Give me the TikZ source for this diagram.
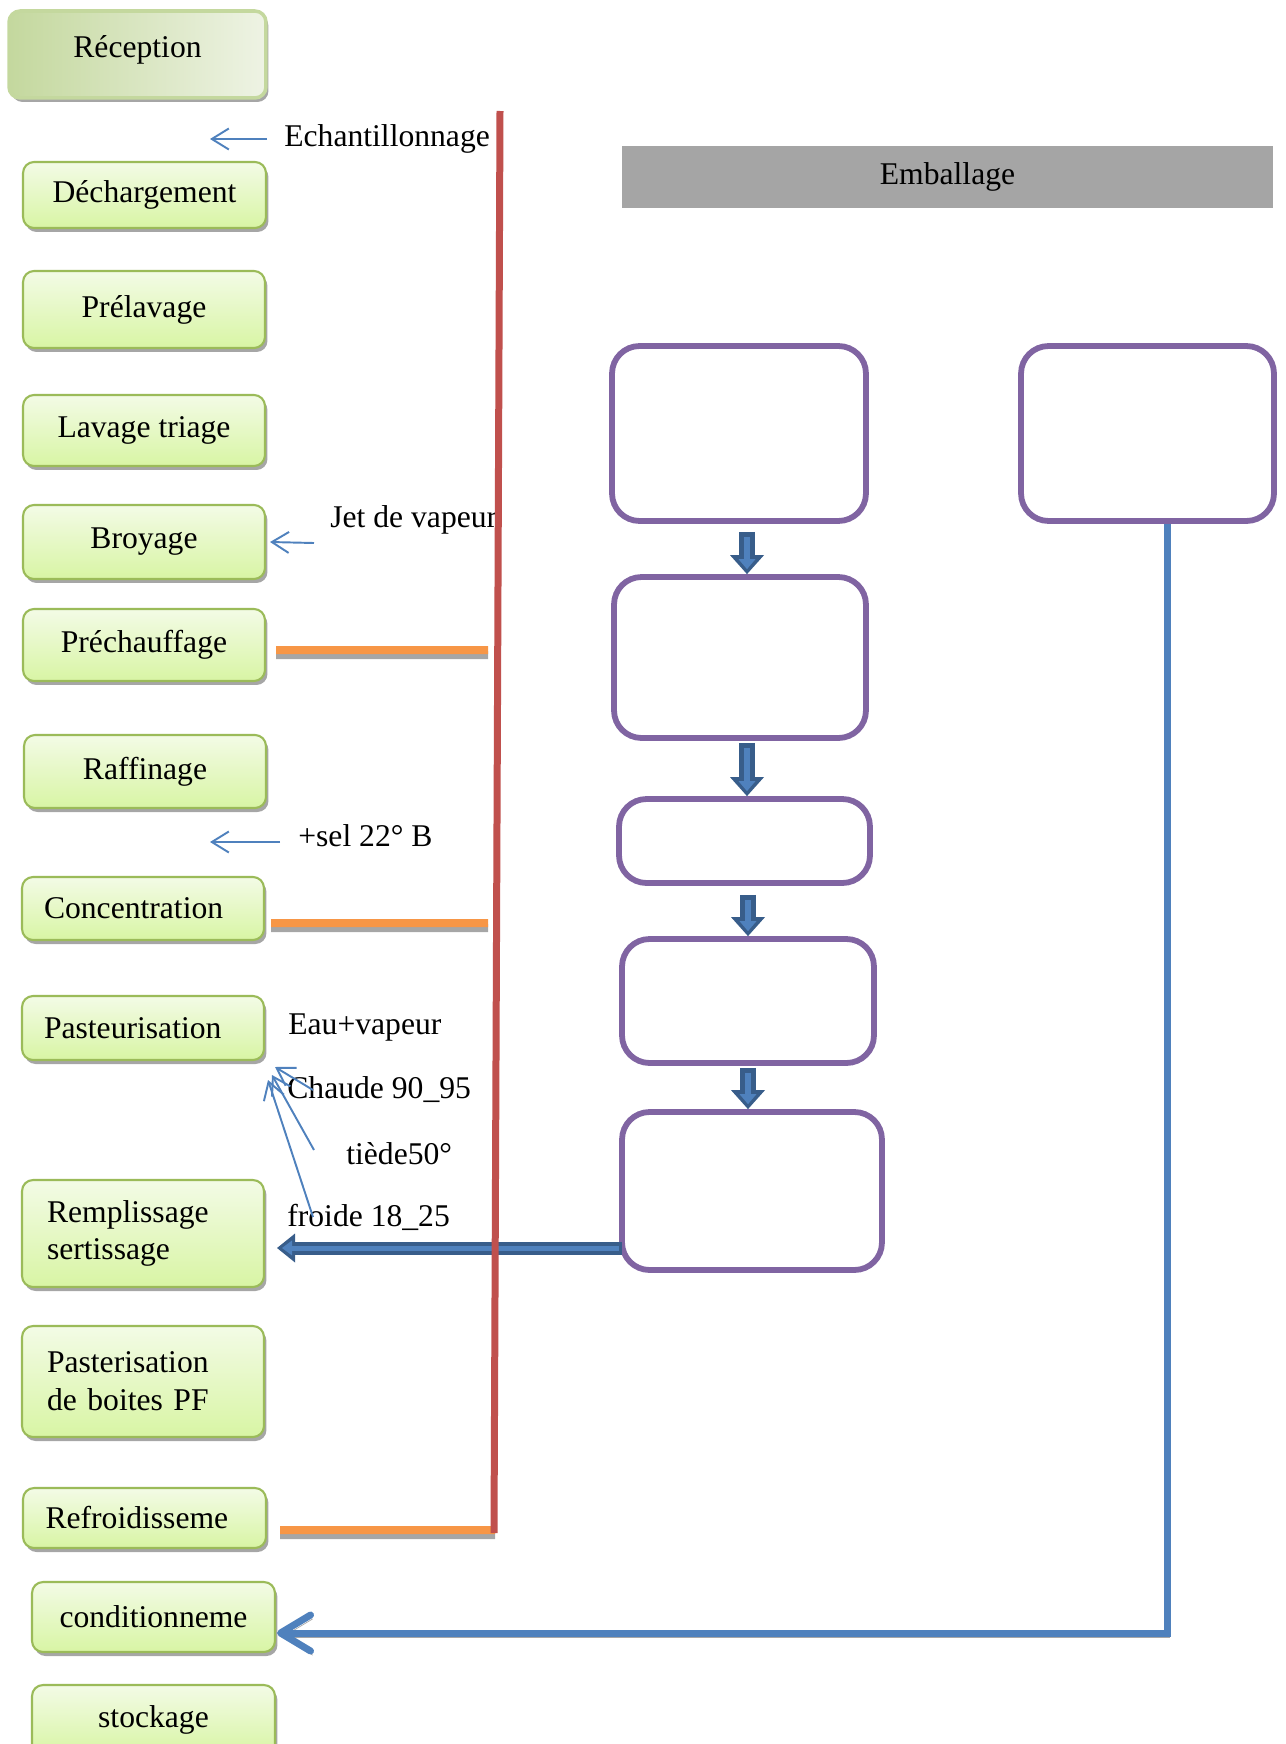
\documentclass[tikz,border=0pt]{standalone}
\usepackage{fontspec}
\setmainfont{Liberation Serif}
\usetikzlibrary{arrows.meta,shadows}
\definecolor{gbord}{HTML}{9BBB59}
\definecolor{gtop}{HTML}{F3FBE6}
\definecolor{gbot}{HTML}{D8F5A4}
\definecolor{rdark}{HTML}{C4D89E}
\definecolor{rlight}{HTML}{EEF3E4}
\definecolor{purp}{HTML}{8064A2}
\definecolor{bblue}{HTML}{4F81BD}
\definecolor{dblue}{HTML}{385D8A}
\definecolor{redl}{HTML}{C0504D}
\definecolor{orng}{HTML}{F79646}
\definecolor{embgray}{HTML}{A5A5A5}

\begin{document}
\begin{tikzpicture}[x=0.02cm,y=-0.02cm,font=\fontsize{18}{21.5}\selectfont,
gbox/.style={draw=gbord,line width=1.2pt,rounded corners=0.22cm,top color=gtop,bottom color=gbot,
  drop shadow={shadow xshift=0.05cm,shadow yshift=-0.08cm,fill=black!35,opacity=1},
  minimum width=4.84cm,inner sep=0pt},
rbox/.style={gbox,left color=rdark,right color=rlight,draw=rdark,line width=2pt,minimum width=5.14cm},
twoline/.style={gbox,text width=3.84cm,inner xsep=0.5cm,align=left},
leftbox/.style={gbox,text width=3.96cm,inner xsep=0.44cm,align=left},
pbox/.style={draw=purp,line width=3.3pt,rounded corners=0.55cm,fill=white,inner sep=0pt},
lbl/.style={inner sep=0pt,anchor=west},
thinarr/.style={draw=bblue,line width=1.1pt,-{Straight Barb[length=0.34cm,width=0.42cm]}},
blkout/.style={draw=dblue,line width=0.32cm,-{Triangle[width=0.68cm,length=0.38cm,line width=0pt]}},
blkin/.style={draw=bblue,line width=0.12cm,-{Triangle[width=0.34cm,length=0.2cm,line width=0pt]},shorten >=0.1cm,shorten <=0.1cm},
hblkout/.style={draw=dblue,line width=0.26cm,-{Triangle[width=0.58cm,length=0.36cm,line width=0pt]},shorten >=0.24cm},
hblkin/.style={draw=bblue,line width=0.1cm,-{Triangle[width=0.3cm,length=0.2cm,line width=0pt]},shorten >=0.34cm,shorten <=0.06cm},
orline/.style={draw=orng,line width=0.16cm,preaction={draw=black!35,line width=0.16cm,transform canvas={yshift=-0.1cm}}},
lline/.style={draw=bblue,line width=0.14cm,-{Straight Barb[length=0.6cm,width=0.72cm,round]},
  preaction={draw=black!35,transform canvas={xshift=0.04cm,yshift=-0.08cm}}},
redline/.style={draw=redl,line width=0.14cm}]
\useasboundingbox (0,0) rectangle (1285,1744);
\node[rbox,minimum height=1.74cm] (recep) at (137.5,54.5) {\raisebox{0.3cm}{Réception}};
\node[gbox,minimum width=4.86cm,minimum height=1.32cm] (dech) at (144.5,195) {Déchargement};
\node[gbox,minimum height=1.54cm] (prelav) at (144,309.5) {Prélavage};
\node[gbox,minimum height=1.42cm] (lavage) at (144,430.5) {Lavage triage};
\node[gbox,minimum height=1.48cm] (broyage) at (144,542) {Broyage};
\node[gbox,minimum height=1.44cm] (prech) at (144,645) {Préchauffage};
\node[gbox,minimum height=1.46cm] (raff) at (145,771.5) {Raffinage};
\node[leftbox,minimum height=1.26cm] (conc) at (143,908.5) {Concentration};
\node[leftbox,minimum height=1.28cm] (past) at (143,1028) {Pasteurisation};
\node[twoline,minimum height=2.14cm] (rempl) at (143,1233.5) {Remplissage\\sertissage};
\node[twoline,minimum height=2.22cm] (pastb) at (143,1381.5) {Pasterisation\\de boites PF};
\node[leftbox,minimum width=4.86cm,minimum height=1.2cm] (refroid) at (144.5,1518) {Refroidisseme};
\node[gbox,minimum width=4.86cm,minimum height=1.4cm] (condit) at (153.5,1617) {conditionneme};
\node[gbox,minimum width=4.86cm,minimum height=1.4cm] (stock) at (153.5,1720) {stockage};

\node[fill=embgray,minimum width=13.02cm,minimum height=1.24cm,inner sep=0pt] (emb) at (947.5,177) {Emballage};
\node[pbox,minimum width=5.08cm,minimum height=3.5cm] (p1) at (739,433.5) {};
\node[pbox,minimum width=5.06cm,minimum height=3.5cm] (p2) at (1147.5,433.5) {};
\node[pbox,minimum width=5.04cm,minimum height=3.22cm] (p3) at (740,657.5) {};
\node[pbox,minimum width=5.02cm,minimum height=1.68cm] (p4) at (744.5,841) {};
\node[pbox,minimum width=5.04cm,minimum height=2.48cm] (p5) at (748,1001) {};
\node[pbox,minimum width=5.2cm,minimum height=3.16cm] (p6) at (752,1191) {};
\foreach \a/\b/\g/\dx in {p1/p3/0.16cm/0.16cm,p3/p4/0.04cm/0.14cm,p4/p5/0.18cm/0.07cm,p5/p6/0.04cm/0cm}{
  \draw[blkout] ([xshift=\dx,yshift=-\g]\a.south) -- ([xshift=\dx]\a.south |- \b.north);
  \draw[blkin] ([xshift=\dx,yshift=-\g]\a.south) -- ([xshift=\dx]\a.south |- \b.north);
}

\node[lbl] (ech) at (284,139) {Echantillonnage};
\node[lbl] (jet) at (330,520) {Jet de vapeur};
\node[lbl] (sel) at (298,836) {+sel 22° B};
\node[lbl] (eau) at (288,1027) {Eau+vapeur};
\node[lbl] (chaude) at (287,1090) {Chaude 90\_95};
\node[lbl] (tiede) at (346,1154) {tiède50°};
\node[lbl] (froide) at (287,1217) {froide 18\_25};

\coordinate (echtip) at (210,139);
\coordinate (jettail) at (314,543);
\coordinate (seltail) at (280,842);
\coordinate (seltip) at (210,842);
\coordinate (c1) at (313,1090); \coordinate (t1) at (275,1067);
\coordinate (c2) at (314,1150); \coordinate (t2) at (272,1075);
\coordinate (c3) at (313,1217); \coordinate (t3) at (268,1080);
\draw[thinarr] ([xshift=-0.34cm]ech.west) -- (echtip);
\draw[thinarr] (jettail) -- ([xshift=0.08cm]broyage.east);
\draw[thinarr] (seltail) -- (seltip);
\draw[thinarr] (c1) -- (t1);
\draw[thinarr] (c2) -- (t2);
\draw[thinarr] (c3) -- (t3);

\coordinate (fillout) at (622,1248);
\draw[hblkout] (fillout) -- (rempl.east |- fillout);
\draw[hblkin] (fillout) -- (rempl.east |- fillout);
\draw[lline] ([xshift=0.39cm]p2.south) |- ([xshift=0.02cm,yshift=-0.32cm]condit.east);

\coordinate (o1) at (488,650);
\coordinate (o2) at (488,923);
\coordinate (o3) at (495,1530);
\draw[orline] ([xshift=0.2cm,yshift=-0.1cm]prech.east) -- (o1);
\draw[orline] ([xshift=0.12cm,yshift=-0.29cm]conc.east) -- (o2);
\draw[orline] ([xshift=0.26cm,yshift=-0.24cm]refroid.east) -- (o3);
\coordinate (rtop) at (500,111);
\coordinate (rbot) at (494,1533);
\draw[redline] (rtop) -- (rbot);
\end{tikzpicture}
\end{document}
